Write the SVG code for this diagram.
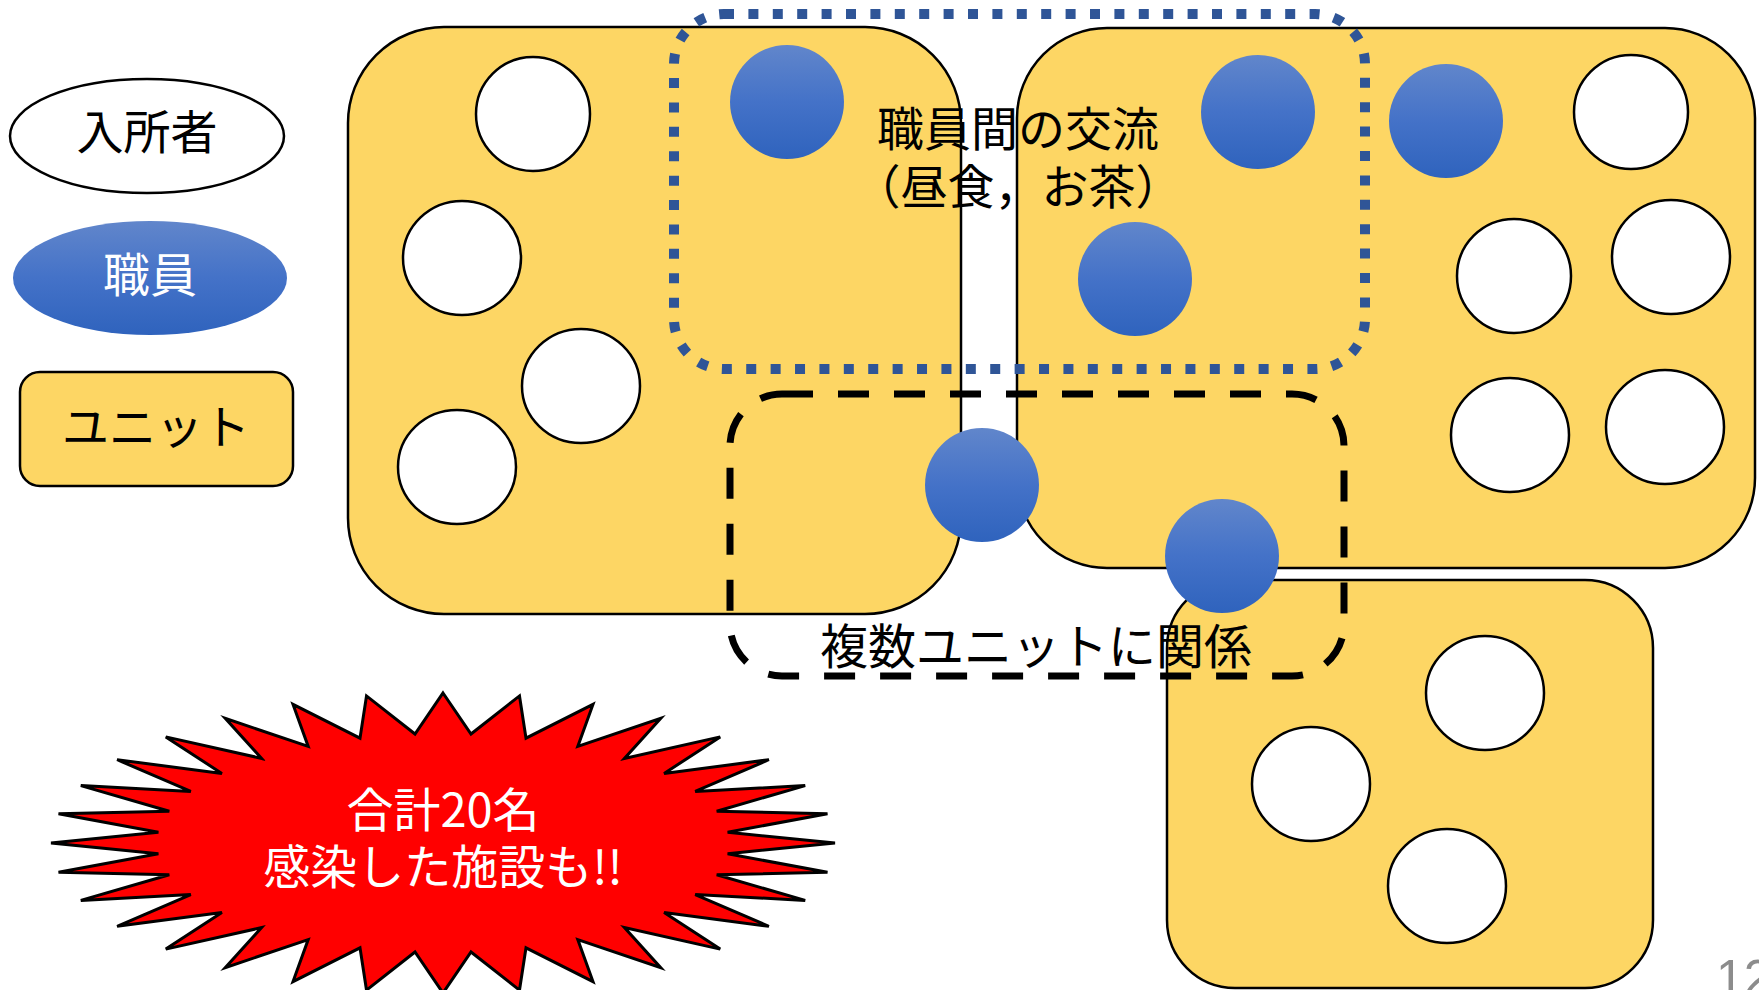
<svg xmlns="http://www.w3.org/2000/svg" width="1759" height="990" viewBox="0 0 1759 990">
<defs>
<linearGradient id="staffGrad" x1="0" y1="0" x2="0" y2="1">
<stop offset="0" stop-color="#6186cb"/>
<stop offset="0.5" stop-color="#4472c8"/>
<stop offset="1" stop-color="#2f63bd"/>
</linearGradient>
<style>
.unit{fill:#fdd664;stroke:#000;stroke-width:2.5}
.res{fill:#fff;stroke:#000;stroke-width:2.5}
.staff{fill:url(#staffGrad);stroke:none}
.t{font-family:"Noto Sans CJK JP","Noto Sans",sans-serif;text-anchor:middle;fill:#000}
.w{fill:#fff}
</style>
</defs>
<rect width="1759" height="990" fill="#fff"/>

<g id="legend-resident"><ellipse cx="147" cy="136" rx="137" ry="57" class="res"/><text x="147" y="149" font-size="47" class="t">入所者</text></g>
<g id="legend-staff"><ellipse cx="150" cy="278" rx="137" ry="57" class="staff"/><text x="150" y="292" font-size="47" class="t w">職員</text></g>
<g id="legend-unit"><rect x="20" y="372" width="273" height="114" rx="20" class="unit"/><text x="156" y="444" font-size="47" class="t">ユニット</text></g>

<g id="unit-left"><rect x="348" y="27" width="613" height="587" rx="96" class="unit"/></g>
<g id="unit-right-top"><rect x="1017" y="28" width="738" height="540" rx="90" class="unit"/></g>
<g id="unit-bottom"><rect x="1167" y="580" width="486" height="408" rx="68" class="unit"/></g>

<g id="residents">
<ellipse cx="533" cy="114" rx="57" ry="57" class="res"/>
<ellipse cx="462" cy="258" rx="59" ry="57" class="res"/>
<ellipse cx="581" cy="386" rx="59" ry="57" class="res"/>
<ellipse cx="457" cy="467" rx="59" ry="57" class="res"/>
<ellipse cx="1631" cy="112" rx="57" ry="57" class="res"/>
<ellipse cx="1514" cy="276" rx="57" ry="57" class="res"/>
<ellipse cx="1671" cy="257" rx="59" ry="57" class="res"/>
<ellipse cx="1510" cy="435" rx="59" ry="57" class="res"/>
<ellipse cx="1665" cy="427" rx="59" ry="57" class="res"/>
<ellipse cx="1485" cy="693" rx="59" ry="57" class="res"/>
<ellipse cx="1311" cy="784" rx="59" ry="57" class="res"/>
<ellipse cx="1447" cy="886" rx="59" ry="57" class="res"/>
</g>

<g id="staff">
<ellipse cx="787" cy="102" rx="57" ry="57" class="staff"/>
<ellipse cx="1258" cy="112" rx="57" ry="57" class="staff"/>
<ellipse cx="1135" cy="279" rx="57" ry="57" class="staff"/>
<ellipse cx="1446" cy="121" rx="57" ry="57" class="staff"/>
<ellipse cx="982" cy="485" rx="57" ry="57" class="staff"/>
<ellipse cx="1222" cy="556" rx="57" ry="57" class="staff"/>
</g>

<g id="groupings">
<rect id="staff-exchange" x="674" y="14" width="691" height="355" rx="50" fill="none" stroke="#2f5597" stroke-width="10" stroke-dasharray="10 14.4"/>
<rect id="multi-unit" x="730" y="394" width="614" height="282" rx="52" fill="none" stroke="#000" stroke-width="7" stroke-dasharray="31 25"/>
</g>

<g id="labels">
<text x="1018" y="146" font-size="47" class="t">職員間の交流</text>
<text x="1018" y="204" font-size="47" class="t">（昼食，お茶）</text>
<text x="1036" y="664" font-size="48" class="t">複数ユニットに関係</text>
</g>

<g id="burst">
<polygon fill="#ff0000" stroke="#000" stroke-width="3" stroke-linejoin="miter" points="443,693 471,734 519.5,695.9 526,738.2 593,704.4 577.8,746.4 660.8,718.3 624.4,758.4 720.2,736.9 664.1,773.5 768.9,759.7 695.2,791.4 805.2,785.6 716.7,811.2 827.5,813.7 727.6,832.3 835,843 727.6,853.7 827.5,872.3 716.7,874.8 805.2,900.4 695.2,894.6 768.9,926.3 664.1,912.5 720.2,949.1 624.4,927.6 660.8,967.7 577.8,939.6 593,981.6 526,947.8 519.5,990.1 471,952 443,993 415,952 366.5,990.1 360,947.8 293,981.6 308.2,939.6 225.2,967.7 261.6,927.6 165.8,949.1 221.9,912.5 117.1,926.3 190.8,894.6 80.8,900.4 169.3,874.8 58.5,872.3 158.4,853.7 51,843 158.4,832.3 58.5,813.7 169.3,811.2 80.8,785.6 190.8,791.4 117.1,759.7 221.9,773.5 165.8,736.9 261.6,758.4 225.2,718.3 308.2,746.4 293,704.4 360,738.2 366.5,695.9 415,734"/>
<text x="443" y="827" font-size="47" class="t w">合計20名</text>
<text x="443" y="884" font-size="47" class="t w">感染した施設も!!</text>
</g>

<text id="page-number" x="1716" y="995" font-size="50" font-family="'Liberation Sans',Arial,sans-serif" fill="#8c8c8c">12</text>
</svg>
